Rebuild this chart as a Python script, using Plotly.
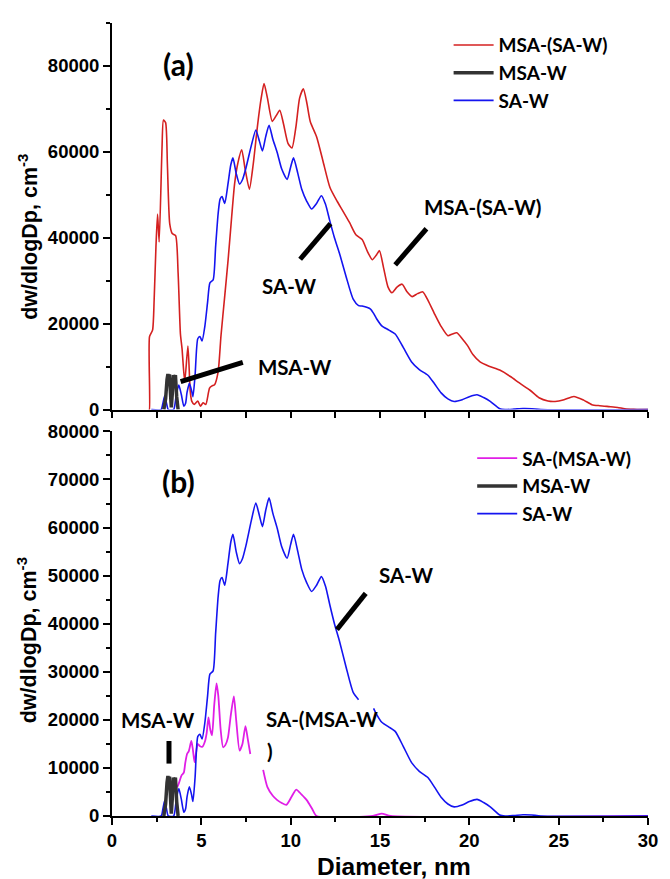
import plotly.graph_objects as go

# ---------------- data ----------------
red_x = [2.05, 2.09, 2.1, 2.27, 2.36, 2.46, 2.55, 2.64, 2.8, 2.88, 3.0, 3.1, 3.23, 3.37, 3.56, 3.7,
         3.83, 3.92, 4.07, 4.25, 4.38, 4.47, 4.6, 4.8, 4.95, 5.1, 5.25, 5.46, 5.6, 5.74, 5.94,
         6.1, 6.3, 6.5, 6.7, 6.86, 7.05, 7.26, 7.45, 7.69, 7.9, 8.15, 8.35, 8.51, 8.7, 8.97,
         9.2, 9.39, 9.6, 9.85, 10.07, 10.3, 10.5, 10.71, 10.9, 11.1, 11.45, 11.8, 12.2, 12.6,
         12.9, 13.3, 13.65, 14.0, 14.3, 14.57, 14.8, 14.97, 15.2, 15.45, 15.67, 15.95, 16.24,
         16.5, 16.8, 17.1, 17.4, 17.7, 18.05, 18.4, 18.8, 19.05, 19.3, 19.6, 19.9, 20.2, 20.6,
         21.1, 21.7, 22.3, 22.8, 23.4, 23.9, 24.4, 24.8, 25.3, 25.85, 26.4, 26.86, 27.3, 27.8,
         28.3, 28.7, 29.2, 29.6, 30.0]
red_y = [0, 0, 17000, 18500, 25700, 37900, 45500, 39000, 61000, 67400, 66800, 57100, 43300, 41000,
         40500, 31800, 17600, 14200, 6500, 14800, 4200, 1900, 1200, 2000, 800, 1600, 1200, 5000,
         5500, 5800, 8800, 17200, 26000, 34900, 45000, 52500, 57500, 60500, 56000, 51300, 57000,
         66300, 72500, 75900, 72500, 67100, 68500, 69700, 66500, 62000, 60900, 66000, 72500,
         74700, 71500, 67000, 63500, 58000, 51700, 48500, 46400, 43500, 40700, 39600, 36800,
         34900, 36000, 37000, 33000, 28500, 27200, 28500, 29200, 27500, 26300, 27000, 27400,
         25300, 22300, 19500, 17200, 17600, 17900, 16500, 14900, 12800, 11100, 10100, 9200,
         7700, 6200, 4500, 2760, 2000, 1900, 2300, 3060, 2200, 1150, 900, 700, 500, 200, 50, 0, 0]

blue_x = [2.2, 2.75, 2.85, 2.95, 3.05, 3.15, 3.45, 3.6, 3.74, 3.88, 4.02, 4.12, 4.2, 4.33, 4.45,
          4.53, 4.65, 4.8, 4.92, 5.04, 5.2, 5.35, 5.48, 5.66, 5.8, 5.94, 6.05, 6.16, 6.31, 6.49,
          6.65, 6.77, 6.95, 7.14, 7.3, 7.5, 7.8, 8.05, 8.25, 8.42, 8.6, 8.79, 9.0, 9.25, 9.5,
          9.8, 10.0, 10.16, 10.4, 10.62, 10.9, 11.17, 11.45, 11.72, 11.95, 12.18, 12.45, 12.73,
          13.1, 13.5, 13.8, 14.0, 14.47, 14.64, 14.8, 15.1, 15.5, 15.85, 16.3, 16.77, 17.2,
          17.68, 18.05, 18.42, 18.8, 19.15, 19.6, 20.0, 20.43, 20.8, 21.17, 21.7, 22.0, 22.5,
          23.0, 23.5, 24.0, 30.0]
blue_y = [0, 0, 1500, 3200, 1500, 0, 0, 3500, 5700, 3500, 800, 1500, 4000, 6100, 4500, 3000, 8000,
          16500, 17000, 16000, 19500, 25000, 29500, 30200, 38000, 45600, 49000, 49600, 48000,
          52500, 57000, 58600, 55000, 52500, 53500, 56300, 61500, 65100, 62500, 60200, 63500,
          66200, 63000, 59800, 56000, 53600, 56500, 58600, 55000, 51300, 48500, 46700, 48000,
          49800, 47800, 44100, 40000, 36400, 31000, 25700, 24200, 24100, 23400, 22400, 21200,
          19500, 18500, 17600, 14500, 11100, 9300, 8000, 6000, 3900, 2500, 1900, 2300, 3000,
          3450, 2800, 1900, 200, 0, 100, 250, 200, 0, 0]

black_x = [2.9, 3.0, 3.08, 3.13, 3.18, 3.22, 3.27, 3.32, 3.38, 3.44, 3.5, 3.55, 3.62, 3.7]
black_y = [0, 2500, 7000, 8300, 7000, 8200, 4000, 500, 4000, 8000, 7000, 8000, 3000, 0]

mag_x = [3.65, 3.74, 3.9, 4.02, 4.1, 4.2, 4.3, 4.44, 4.52, 4.62, 4.7, 4.8, 4.93, 5.06, 5.2, 5.3,
         5.4, 5.5, 5.6, 5.72, 5.85, 5.95, 6.08, 6.22, 6.35, 6.49, 6.65, 6.82, 6.95, 7.14, 7.3,
         7.47, 7.6, 7.74, 8.1, 8.46, 8.7, 9.0, 9.25, 9.5, 9.76, 10.05, 10.31, 10.6, 10.9, 11.2,
         11.45, 14.6, 15.1, 15.6, 30.0]
mag_y = [6000, 6800, 8500, 9000, 11000, 12900, 13500, 15600, 14000, 11200, 13000, 15000, 14500,
         14400, 15500, 17300, 20500, 18000, 16800, 23000, 27600, 25000, 18000, 14300, 14800,
         16300, 21000, 24900, 20000, 13600, 15000, 18700, 16000, 12900, None, 9600, 6000, 4200,
         3300, 2700, 2300, 4000, 5500, 4500, 3300, 1500, 0, 0, 500, 0, 0]

# gap in the SA-W curve of panel (b)
blue_gap = (13.85, 14.55)

x_ticks = [0, 5, 10, 15, 20, 25, 30]
top_y_ticks = [0, 20000, 40000, 60000, 80000]
bot_y_ticks = [0, 10000, 20000, 30000, 40000, 50000, 60000, 70000, 80000]

RED = "#d42020"
BLUE = "#1414f0"
MAG = "#e01ee6"
BLK = "#333333"

blue_y_b = [None if blue_gap[0] < xv < blue_gap[1] else yv for xv, yv in zip(blue_x, blue_y)]

fig = go.Figure()

# ----- panel (a): xaxis2 / yaxis2 -----
fig.add_trace(go.Scatter(x=red_x, y=red_y, mode="lines", name="MSA-(SA-W)",
                         line=dict(color=RED, width=1.6, shape="spline", smoothing=0.6),
                         xaxis="x2", yaxis="y2", legend="legend", legendrank=1))
fig.add_trace(go.Scatter(x=blue_x, y=blue_y, mode="lines", name="SA-W",
                         line=dict(color=BLUE, width=1.6, shape="spline", smoothing=0.6),
                         xaxis="x2", yaxis="y2", legend="legend", legendrank=3))
fig.add_trace(go.Scatter(x=black_x, y=black_y, mode="lines", name="MSA-W",
                         line=dict(color=BLK, width=3.5),
                         xaxis="x2", yaxis="y2", legend="legend", legendrank=2))

# ----- panel (b): xaxis / yaxis -----
fig.add_trace(go.Scatter(x=mag_x, y=mag_y, mode="lines", name="SA-(MSA-W)",
                         line=dict(color=MAG, width=1.8, shape="spline", smoothing=0.6),
                         connectgaps=False, legend="legend2", legendrank=1))
fig.add_trace(go.Scatter(x=blue_x, y=blue_y_b, mode="lines", name="SA-W",
                         line=dict(color=BLUE, width=1.6, shape="spline", smoothing=0.6),
                         connectgaps=False, legend="legend2", legendrank=3))
fig.add_trace(go.Scatter(x=black_x, y=black_y, mode="lines", name="MSA-W",
                         line=dict(color=BLK, width=3.5),
                         legend="legend2", legendrank=2))

tickfont = dict(family="Liberation Sans", size=18.5, color="black", weight="bold")
axcommon = dict(showline=True, linecolor="black", linewidth=2, ticks="outside",
                tickcolor="black", tickwidth=2, showgrid=False, zeroline=False,
                tickfont=tickfont, tickformat="d")

fig.update_layout(
    width=670, height=879,
    margin=dict(l=112, r=13, t=14, b=63),
    paper_bgcolor="white", plot_bgcolor="white",
    showlegend=True,
    xaxis=dict(domain=[0, 1], range=[0, 30], anchor="y", tickvals=x_ticks, ticklen=7,
               minor=dict(dtick=2.5, ticks="outside", ticklen=4, tickcolor="black", tickwidth=2),
               **axcommon),
    yaxis=dict(domain=[0, 0.485], range=[0, 80000], anchor="x", tickvals=bot_y_ticks, ticklen=7,
               minor=dict(dtick=5000, ticks="outside", ticklen=4, tickcolor="black", tickwidth=2),
               **axcommon),
    xaxis2=dict(domain=[0, 1], range=[0, 30], anchor="y2", dtick=2.5, ticklen=6,
                showticklabels=False, **axcommon),
    yaxis2=dict(domain=[0.5125, 1], range=[0, 90000], anchor="x2", tickvals=top_y_ticks,
                ticklen=7,
                minor=dict(dtick=10000, ticks="outside", ticklen=4, tickcolor="black", tickwidth=2),
                **axcommon),
    legend=dict(x=0.628, y=0.996, xanchor="left", yanchor="top", bgcolor="rgba(0,0,0,0)",
                font=dict(family="Lato", size=19, color="black", weight="bold"),
                itemwidth=40, traceorder="normal"),
    legend2=dict(x=0.672, y=0.475, xanchor="left", yanchor="top", bgcolor="rgba(0,0,0,0)",
                 font=dict(family="Lato", size=19, color="black", weight="bold"),
                 itemwidth=40, traceorder="normal"),
)

lab = dict(family="Lato", size=20.5, color="black", weight="bold")
ytitle_font = dict(family="Liberation Sans", size=21.5, color="black", weight="bold")
ann = [
    dict(text="(a)", x=3.74, y=80500, xref="x2", yref="y2", font=dict(family="Lato", size=30, color="black", weight="bold")),
    dict(text="MSA-W", x=10.24, y=9900, xref="x2", yref="y2", font=lab),
    dict(text="SA-W", x=9.9, y=28700, xref="x2", yref="y2", font=lab),
    dict(text="MSA-(SA-W)", x=20.75, y=47100, xref="x2", yref="y2", font=lab),
    dict(text="(b)", x=3.74, y=69700, xref="x", yref="y", font=dict(family="Lato", size=30, color="black", weight="bold")),
    dict(text="MSA-W", x=2.59, y=19950, xref="x", yref="y", font=lab),
    dict(text="SA-(MSA-W", x=8.5, y=20150, xref="x", yref="y", xanchor="left", font=lab),
    dict(text=")", x=8.55, y=13600, xref="x", yref="y", xanchor="left", font=lab),
    dict(text="SA-W", x=16.46, y=50200, xref="x", yref="y", font=lab),
    dict(text="dw/dlogDp, cm<sup>-3</sup>", x=-0.158, y=0.7307, xref="paper", yref="paper",
         xanchor="center", yanchor="middle", textangle=-90, font=ytitle_font),
    dict(text="dw/dlogDp, cm<sup>-3</sup>", x=-0.158, y=0.222, xref="paper", yref="paper",
         xanchor="center", yanchor="middle", textangle=-90, font=ytitle_font),
    dict(text="Diameter, nm", x=0.5266, y=-0.0635, xref="paper", yref="paper",
         xanchor="center", yanchor="middle",
         font=dict(family="Liberation Sans", size=24.5, color="black", weight="bold")),
]
for a in ann:
    a.setdefault("showarrow", False)
fig.update_layout(annotations=ann)

pointer_lines = [
    ("x2", "y2", 3.84, 6500, 7.32, 11000),
    ("x2", "y2", 10.53, 35000, 12.23, 43300),
    ("x2", "y2", 15.85, 33700, 17.6, 42100),
    ("x", "y", 3.19, 15600, 3.19, 10900),
    ("x", "y", 12.59, 38800, 14.2, 46300),
]
for xr, yr, x0, y0, x1, y1 in pointer_lines:
    fig.add_shape(type="line", xref=xr, yref=yr, x0=x0, y0=y0, x1=x1, y1=y1,
                  line=dict(color="black", width=5))

fig.write_html("out.html")
